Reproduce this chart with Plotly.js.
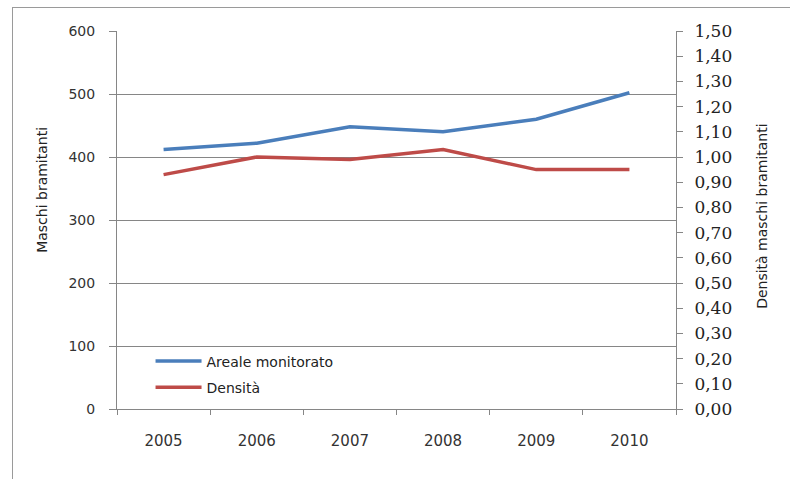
<!DOCTYPE html>
<html>
<head>
<meta charset="utf-8">
<script src="https://cdn.plot.ly/plotly-3.0.1.min.js"></script>
<style>
html,body{margin:0;padding:0;background:#fff;}
#wrap{position:relative;width:790px;height:479px;overflow:hidden;}
#chart{width:790px;height:479px;}
#frame{position:absolute;left:12px;top:7px;width:800px;height:500px;border-left:1px solid #9a9a9a;border-top:1px solid #9a9a9a;pointer-events:none;}
</style>
</head>
<body>
<div id="wrap"><div id="chart"></div><div id="frame"></div></div>
<script>
const years = ["2005","2006","2007","2008","2009","2010"];
const areale = [412, 422, 448, 440, 460, 502];
const densita = [0.93, 1.00, 0.99, 1.03, 0.95, 0.95];
const leftTitle = "Maschi bramitanti";
const rightTitle = "Densità maschi bramitanti";
const nameA = "Areale monitorato";
const nameD = "Densità";

const sans = "DejaVu Sans, Tahoma, sans-serif";
const traces = [
  {x: years, y: areale, name: nameA, type: "scatter", mode: "lines", legendgroup: "a",
   line: {color: "#4A7EBB", width: 3.5}, yaxis: "y"},
  {x: years, y: densita, name: nameD, type: "scatter", mode: "lines", legendgroup: "d",
   line: {color: "#BE4B48", width: 3.5}, yaxis: "y2"}
];
const layout = {
  width: 790, height: 479,
  margin: {l: 117, r: 114, t: 31, b: 70},
  paper_bgcolor: "rgba(0,0,0,0)", plot_bgcolor: "#fff",
  separators: ",.",
  font: {family: sans, size: 14, color: "#333"},
  showlegend: true,
  legend: {x: 0.06, y: 0.168, xanchor: "left", yanchor: "top",
           bgcolor: "rgba(0,0,0,0)", font: {family: sans, size: 14, color: "#222"},
           tracegroupgap: 5, itemwidth: 46},
  xaxis: {type: "category", range: [-0.5, 5.5], showgrid: false,
          showline: true, linecolor: "#868686", linewidth: 1,
          ticks: "outside", tickson: "boundaries", ticklen: 5, tickcolor: "#868686",
          ticklabelstandoff: 18, tickfont: {family: sans, size: 15, color: "#333"}, zeroline: false},
  yaxis: {range: [0, 600], dtick: 100, tick0: 0, showgrid: true, gridcolor: "#868686", gridwidth: 1,
          showline: true, linecolor: "#868686", linewidth: 1, zeroline: false,
          ticks: "outside", ticklen: 7, tickcolor: "#868686",
          tickfont: {family: sans, size: 14, color: "#333"}, ticklabelstandoff: 11},
  yaxis2: {range: [0, 1.5], dtick: 0.1, tick0: 0, overlaying: "y", side: "right",
           showgrid: false, showline: true, linecolor: "#868686", linewidth: 1, zeroline: false,
           ticks: "outside", ticklen: 6, tickcolor: "#868686", tickformat: ".2f",
           tickfont: {family: "DejaVu Serif, Cambria, serif", size: 17, color: "#222"}, ticklabelstandoff: 8},
  annotations: [
    {text: leftTitle, xref: "paper", yref: "paper", x: -0.134, y: 0.58, textangle: -90,
     showarrow: false, xanchor: "center", yanchor: "middle", font: {family: sans, size: 14, color: "#222"}},
    {text: rightTitle, xref: "paper", yref: "paper", x: 1.155, y: 0.51, textangle: -90,
     showarrow: false, xanchor: "center", yanchor: "middle", font: {family: sans, size: 14, color: "#222"}}
  ]
};
Plotly.newPlot("chart", traces, layout, {displayModeBar: false, staticPlot: true});
</script>
</body>
</html>
